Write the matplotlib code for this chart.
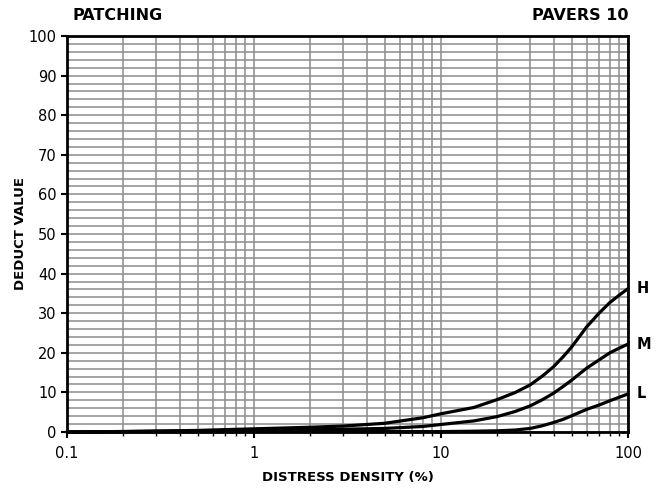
import matplotlib
matplotlib.use("Agg")
import matplotlib.pyplot as plt
from matplotlib.ticker import LogLocator, FixedLocator, NullFormatter

# DATA
h_x = [0.1, 0.2, 0.5, 1, 2, 3, 5, 8, 10, 15, 20, 25, 30, 35, 40, 45, 50, 55, 60, 70, 80, 90, 100]
h_y = [0, 0.1, 0.4, 0.8, 1.2, 1.5, 2.2, 3.6, 4.6, 6.2, 8.2, 10.0, 11.9, 14.2, 16.5, 19.0, 21.5, 24.1, 26.5, 30.0, 32.7, 34.6, 36.2]
m_x = [0.1, 0.5, 1, 2, 3, 5, 8, 10, 15, 20, 25, 30, 35, 40, 45, 50, 60, 70, 80, 90, 100]
m_y = [0, 0.3, 0.5, 0.6, 0.7, 0.9, 1.4, 1.9, 2.8, 3.9, 5.2, 6.6, 8.2, 9.8, 11.5, 13.1, 16.1, 18.2, 20.0, 21.2, 22.2]
l_x = [0.1, 1, 5, 10, 15, 20, 25, 30, 35, 40, 45, 50, 60, 70, 80, 90, 100]
l_y = [0, 0.1, 0.1, 0.1, 0.2, 0.3, 0.5, 0.9, 1.6, 2.4, 3.2, 4.1, 5.7, 6.8, 7.9, 8.8, 9.6]
curve_names = ["H", "M", "L"]
y_ticks = list(range(0, 101, 10))
x_ticks = [0.1, 1, 10, 100]
x_ticklabels = ["0.1", "1", "10", "100"]

plt.rcParams['font.family'] = ['DejaVu Sans']

fig = plt.figure(figsize=(6.64, 4.96), dpi=100)
ax = fig.add_axes([67 / 664, 64 / 496, 561 / 664, 396 / 496])

ax.set_xscale('log')
ax.set_xlim(0.1, 100)
ax.set_ylim(0, 100)

# grid
ax.xaxis.set_minor_locator(LogLocator(base=10, subs=range(2, 10)))
ax.xaxis.set_minor_formatter(NullFormatter())
ax.yaxis.set_minor_locator(FixedLocator(range(0, 101, 2)))
ax.grid(True, which='both', color='#8c8c8c', linewidth=1.1)
ax.set_axisbelow(True)

for xs, ys, name in zip([h_x, m_x, l_x], [h_y, m_y, l_y], curve_names):
    ax.plot(xs, ys, color='black', linewidth=2.3, zorder=3,
            solid_joinstyle='round', solid_capstyle='round', clip_on=False)
    ax.text(1.016, ys[-1] / 100, name, transform=ax.transAxes,
            fontsize=10.5, fontweight='bold', va='center', ha='left')

ax.set_xticks(x_ticks)
ax.set_xticklabels(x_ticklabels)
ax.set_yticks(y_ticks)
ax.tick_params(axis='both', which='major', labelsize=10.5, length=4, width=1.5, direction='out')
ax.tick_params(axis='y', which='minor', length=0)
ax.tick_params(axis='x', which='minor', length=3, width=1, direction='out')
ax.tick_params(axis='x', pad=6)

for s in ax.spines.values():
    s.set_linewidth(2)
    s.set_color('black')

ax.set_xlabel("DISTRESS DENSITY (%)", fontsize=9.5, fontweight='bold')
ax.set_ylabel("DEDUCT VALUE", fontsize=9.5, fontweight='bold')
ax.xaxis.set_label_coords(0.5, -0.099)
ax.yaxis.set_label_coords(-0.072, 0.5)

fig.text(72 / 664, 1 - 15 / 496, "PATCHING", fontsize=11.5, fontweight='bold', va='center', ha='left')
fig.text(628 / 664, 1 - 15 / 496, "PAVERS 10", fontsize=11.5, fontweight='bold', va='center', ha='right')

fig.savefig("out.png", dpi=100)
